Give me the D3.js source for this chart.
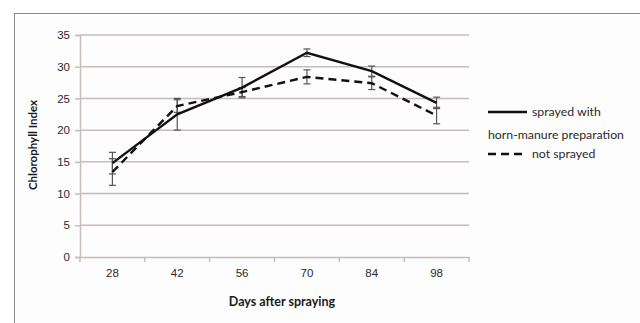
<!DOCTYPE html>
<html>
<head>
<meta charset="utf-8">
<script src="https://cdn.jsdelivr.net/npm/d3@7"></script>
<style>
  body { margin: 0; background: #fff; }
  svg { display: block; font-family: Lato, "Open Sans", sans-serif; }
</style>
</head>
<body>
<svg id="chart" width="640" height="323"></svg>
<script>
// data
var days = ["28", "42", "56", "70", "84", "98"];
var sprayed = [14.8, 22.5, 26.7, 32.2, 29.3, 24.3];
var sprayedErr = [1.7, 2.5, 1.6, 0.6, 0.8, 0.9];
var notSprayed = [13.4, 23.8, 26.0, 28.4, 27.4, 22.3];
var notSprayedErr = [2.1, 1.0, 0.7, 1.1, 1.0, 1.3];
var yTicks = [0, 5, 10, 15, 20, 25, 30, 35];

var svg = d3.select("#chart");

// outer frame (runs off the page right and bottom)
svg.append("rect")
    .attr("x", 14.5).attr("y", 13.5)
    .attr("width", 700).attr("height", 400)
    .attr("fill", "#fdfdfd")
    .attr("stroke", "#8a8a8a")
    .attr("stroke-width", 1);

var margin = {left: 80, right: 469, top: 35, bottom: 257};

var x = d3.scaleBand().domain(days).range([margin.left, margin.right]);
var y = d3.scaleLinear().domain([0, 35]).range([margin.bottom, margin.top]);

var gridCol = "#c9bcb6";

// gridlines
svg.append("g").selectAll("line")
    .data(yTicks.filter(function (d) { return d > 0; }))
    .enter().append("line")
    .attr("x1", margin.left).attr("x2", margin.right)
    .attr("y1", function (d) { return y(d); })
    .attr("y2", function (d) { return y(d); })
    .attr("stroke", gridCol).attr("stroke-width", 1.5);

// y axis
var yAxis = svg.append("g")
    .attr("transform", "translate(" + margin.left + ",0)")
    .call(d3.axisLeft(y).tickValues(yTicks).tickSize(5).tickPadding(5));
yAxis.select(".domain").attr("stroke", gridCol).attr("stroke-width", 1.5);
yAxis.selectAll(".tick line").attr("stroke", gridCol).attr("stroke-width", 1.5);
yAxis.selectAll("text").attr("fill", "#2a2a2a").style("font-size", "11.5px");

// x axis
var xAxis = svg.append("g")
    .attr("transform", "translate(0," + margin.bottom + ")")
    .call(d3.axisBottom(x).tickSize(0).tickPadding(12));
xAxis.select(".domain").attr("stroke", gridCol).attr("stroke-width", 1.5);
xAxis.selectAll("text").attr("fill", "#2a2a2a").style("font-size", "11.5px");
// ticks between categories
xAxis.selectAll(".sep")
    .data(d3.range(days.length + 1))
    .enter().append("line")
    .attr("x1", function (i) { return margin.left + i * x.step(); })
    .attr("x2", function (i) { return margin.left + i * x.step(); })
    .attr("y1", 0).attr("y2", 5)
    .attr("stroke", gridCol).attr("stroke-width", 1.5);

// axis titles
svg.append("text")
    .attr("x", 282).attr("y", 306)
    .attr("text-anchor", "middle")
    .attr("font-weight", "bold")
    .attr("fill", "#1a1a1a")
    .style("font-size", "12.5px")
    .text("Days after spraying");

svg.append("text")
    .attr("transform", "translate(37,145) rotate(-90)")
    .attr("text-anchor", "middle")
    .attr("font-weight", "bold")
    .attr("fill", "#1a1a1a")
    .style("font-size", "11.5px")
    .text("Chlorophyll Index");

var cx = function (d, i) { return x(days[i]) + x.bandwidth() / 2; };

function errorBars(vals, errs) {
    var g = svg.append("g").attr("stroke", "#555").attr("stroke-width", 1.2);
    vals.forEach(function (v, i) {
        var px = cx(v, i);
        g.append("line").attr("x1", px).attr("x2", px)
            .attr("y1", y(v - errs[i])).attr("y2", y(v + errs[i]));
        [v - errs[i], v + errs[i]].forEach(function (e) {
            g.append("line").attr("x1", px - 3.5).attr("x2", px + 3.5)
                .attr("y1", y(e)).attr("y2", y(e));
        });
    });
}

errorBars(notSprayed, notSprayedErr);
errorBars(sprayed, sprayedErr);

var line = d3.line()
    .x(cx)
    .y(function (d) { return y(d); });

svg.append("path")
    .datum(notSprayed)
    .attr("d", line)
    .attr("fill", "none")
    .attr("stroke", "#111")
    .attr("stroke-width", 2.4)
    .attr("stroke-dasharray", "8,5");

svg.append("path")
    .datum(sprayed)
    .attr("d", line)
    .attr("fill", "none")
    .attr("stroke", "#111")
    .attr("stroke-width", 2.4);

// legend
var lg = svg.append("g").style("font-size", "12.3px").attr("fill", "#2a2a2a");
lg.append("line").attr("x1", 488).attr("x2", 527).attr("y1", 112).attr("y2", 112)
    .attr("stroke", "#111").attr("stroke-width", 2.4);
lg.append("text").attr("x", 532).attr("y", 116).text("sprayed with");
lg.append("text").attr("x", 488).attr("y", 139).text("horn-manure preparation");
lg.append("line").attr("x1", 488).attr("x2", 527).attr("y1", 154).attr("y2", 154)
    .attr("stroke", "#111").attr("stroke-width", 2.4)
    .attr("stroke-dasharray", "8,5");
lg.append("text").attr("x", 532).attr("y", 158).text("not sprayed");
</script>
</body>
</html>
